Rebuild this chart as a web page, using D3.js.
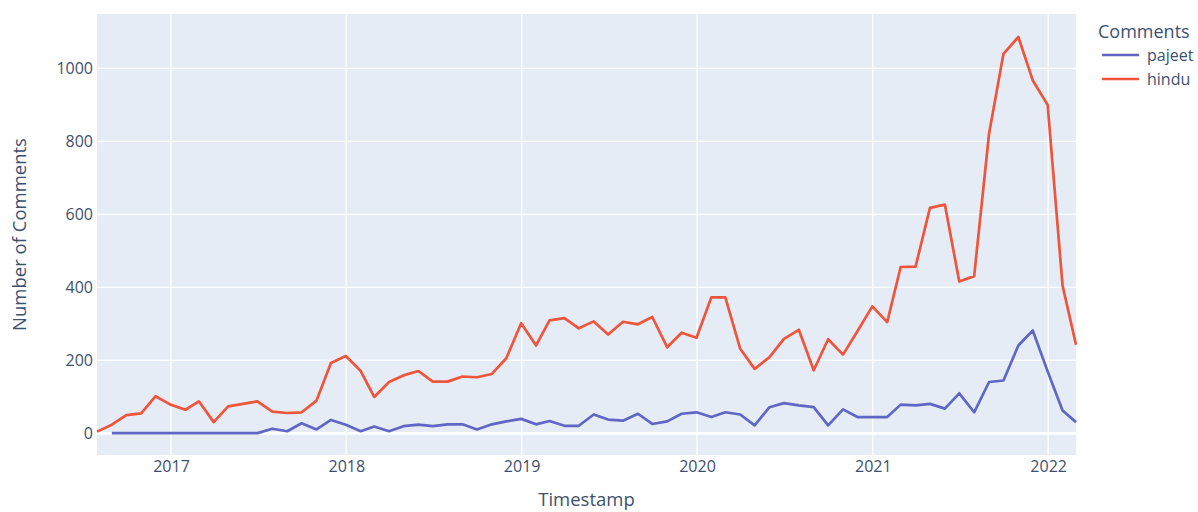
<!DOCTYPE html>
<html>
<head>
<meta charset="utf-8">
<script src="https://cdn.jsdelivr.net/npm/d3@7"></script>
<style>
  body { margin: 0; background: #fff; }
  svg text { font-family: "Open Sans", "Noto Sans", sans-serif; fill: #3d5070; }
</style>
</head>
<body>
<svg id="chart" width="1198" height="512"></svg>
<script>
// month-end timestamps (hindu starts one month before pajeet)
const months = [
  '2016-07-31', '2016-08-31', '2016-09-30', '2016-10-31', '2016-11-30', '2016-12-31',
  '2017-01-31', '2017-02-28', '2017-03-31', '2017-04-30', '2017-05-31', '2017-06-30',
  '2017-07-31', '2017-08-31', '2017-09-30', '2017-10-31', '2017-11-30', '2017-12-31',
  '2018-01-31', '2018-02-28', '2018-03-31', '2018-04-30', '2018-05-31', '2018-06-30',
  '2018-07-31', '2018-08-31', '2018-09-30', '2018-10-31', '2018-11-30', '2018-12-31',
  '2019-01-31', '2019-02-28', '2019-03-31', '2019-04-30', '2019-05-31', '2019-06-30',
  '2019-07-31', '2019-08-31', '2019-09-30', '2019-10-31', '2019-11-30', '2019-12-31',
  '2020-01-31', '2020-02-29', '2020-03-31', '2020-04-30', '2020-05-31', '2020-06-30',
  '2020-07-31', '2020-08-31', '2020-09-30', '2020-10-31', '2020-11-30', '2020-12-31',
  '2021-01-31', '2021-02-28', '2021-03-31', '2021-04-30', '2021-05-31', '2021-06-30',
  '2021-07-31', '2021-08-31', '2021-09-30', '2021-10-31', '2021-11-30', '2021-12-31',
  '2022-01-31', '2022-02-28'
];

const hindu = [
  5, 24, 50, 55, 102, 79, 65, 88, 31, 74, 81, 88,
  60, 56, 58, 90, 193, 212, 171, 100, 141, 159, 171, 142,
  142, 156, 154, 163, 206, 302, 241, 310, 316, 288, 307, 271,
  306, 299, 319, 236, 276, 262, 373, 373, 232, 177, 209, 259,
  284, 173, 258, 216, 280, 348, 305, 456, 457, 618, 627, 416,
  431, 821, 1040, 1086, 967, 900, 405, 243
];

// pajeet has no value for the first month
const pajeet = [
  null, 1, 1, 1, 1, 1, 1, 1, 1, 1, 1, 1,
  13, 6, 28, 11, 37, 24, 6, 19, 6, 20, 24, 20,
  25, 25, 11, 25, 33, 40, 25, 34, 21, 21, 52, 38,
  35, 54, 26, 33, 54, 58, 45, 58, 52, 22, 72, 83,
  77, 72, 22, 66, 45, 45, 45, 79, 77, 81, 68, 110,
  58, 141, 145, 241, 282, 170, 63, 31
];

const seriesNames = ['pajeet', 'hindu'];
const seriesColors = ['#6066c4', '#ef553b'];
const yTicks = [0, 200, 400, 600, 800, 1000];
const xTickYears = ['2017', '2018', '2019', '2020', '2021', '2022'];

const parse = d3.timeParse('%Y-%m-%d');
const dates = months.map(parse);

const plot = { left: 97, right: 1076, top: 14, bottom: 455 };
const svg = d3.select('#chart');

const x = d3.scaleTime()
  .domain([dates[0], dates[dates.length - 1]])
  .range([plot.left, plot.right]);
const y = d3.scaleLinear()
  .domain([-59, 1149])
  .range([plot.bottom, plot.top]);

// background
svg.append('rect')
  .attr('x', plot.left).attr('y', plot.top)
  .attr('width', plot.right - plot.left).attr('height', plot.bottom - plot.top)
  .attr('fill', '#e5ecf6');

// grid
const yearDates = xTickYears.map(s => d3.timeParse('%Y')(s));
svg.append('g').selectAll('line').data(yearDates).enter().append('line')
  .attr('x1', d => x(d)).attr('x2', d => x(d))
  .attr('y1', plot.top).attr('y2', plot.bottom)
  .attr('stroke', '#fff').attr('stroke-width', 1.3);
svg.append('g').selectAll('line').data(yTicks).enter().append('line')
  .attr('x1', plot.left).attr('x2', plot.right)
  .attr('y1', d => y(d)).attr('y2', d => y(d))
  .attr('stroke', '#fff').attr('stroke-width', d => d === 0 ? 2.7 : 1.3);

// axes
const yAxis = svg.append('g')
  .attr('transform', `translate(${plot.left},0)`)
  .call(d3.axisLeft(y).tickValues(yTicks).tickFormat(d3.format('d')).tickSize(0).tickPadding(4));
const xAxis = svg.append('g')
  .attr('transform', `translate(0,${plot.bottom})`)
  .call(d3.axisBottom(x).tickValues(yearDates).tickFormat(d3.timeFormat('%Y')).tickSize(0).tickPadding(6));
[yAxis, xAxis].forEach(a => {
  a.select('.domain').remove();
  a.selectAll('text').attr('font-size', 16).attr('fill', '#46587a').style('font-family', '"Open Sans", sans-serif');
});

// lines
const line = d3.line()
  .defined(d => d.v != null)
  .x(d => x(d.date))
  .y(d => y(d.v));
[pajeet, hindu].forEach((vals, i) => {
  const pts = vals.map((v, j) => ({ date: dates[j], v: v }));
  svg.append('path')
    .datum(pts)
    .attr('d', line)
    .attr('fill', 'none')
    .attr('stroke', seriesColors[i])
    .attr('stroke-width', 2.7)
    .attr('stroke-linejoin', 'round');
});

// titles
svg.append('text')
  .attr('x', (plot.left + plot.right) / 2).attr('y', 498)
  .attr('text-anchor', 'middle').attr('dominant-baseline', 'central')
  .attr('font-size', 18.5)
  .text('Timestamp');
svg.append('text')
  .attr('transform', `translate(18,${(plot.top + plot.bottom) / 2}) rotate(-90)`)
  .attr('text-anchor', 'middle').attr('dominant-baseline', 'central')
  .attr('font-size', 18.5)
  .text('Number of Comments');

// legend
const legend = svg.append('g');
legend.append('text')
  .attr('x', 1098).attr('y', 31)
  .attr('dominant-baseline', 'central')
  .attr('font-size', 18)
  .text('Comments');
seriesNames.forEach((name, i) => {
  const ly = 55 + i * 24;
  legend.append('line')
    .attr('x1', 1102).attr('x2', 1139)
    .attr('y1', ly).attr('y2', ly)
    .attr('stroke', seriesColors[i]).attr('stroke-width', 2.7);
  legend.append('text')
    .attr('x', 1147).attr('y', ly)
    .attr('dominant-baseline', 'central')
    .attr('font-size', 16)
    .text(name);
});
</script>
</body>
</html>
